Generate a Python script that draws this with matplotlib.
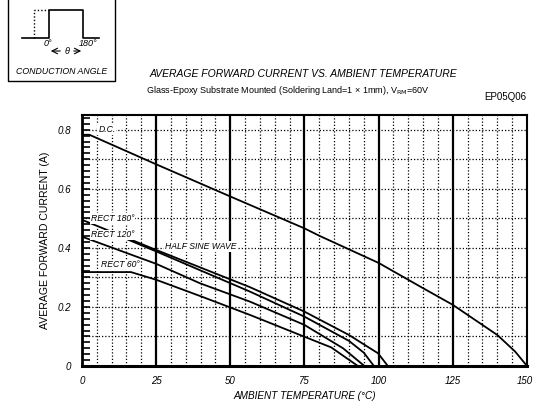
import numpy as np
import matplotlib
matplotlib.use('Agg')
import matplotlib.pyplot as plt
import matplotlib.transforms as mtransforms
from matplotlib.ticker import MultipleLocator

plt.rcParams['font.family'] = ['Liberation Sans Narrow', 'Liberation Sans', 'DejaVu Sans']

# Derating curves: (ambient temperature, current)
dc_t = [0, 2.5, 25, 50, 75, 80, 100, 114, 125, 140, 146, 150]
dc_i = [0.783, 0.783, 0.683, 0.574, 0.466, 0.441, 0.349, 0.269, 0.207, 0.105, 0.049, 0.0]

rect180_t = [0, 15, 25, 56.6, 75, 90, 99.8, 103.1]
rect180_i = [0.495, 0.434, 0.393, 0.267, 0.184, 0.105, 0.043, 0.0]

halfsine_t = [15, 25, 56.6, 75, 90, 95, 98.4]
halfsine_i = [0.430, 0.388, 0.252, 0.167, 0.085, 0.045, 0.0]

rect120_t = [0, 25, 39.8, 56.6, 75, 88, 95.2]
rect120_i = [0.438, 0.346, 0.280, 0.218, 0.139, 0.060, 0.0]

rect60_t = [0, 16.5, 25, 39.8, 56.6, 75, 84, 93.0]
rect60_i = [0.318, 0.318, 0.292, 0.237, 0.173, 0.099, 0.063, 0.0]

x_ticks = [0, 25, 50, 75, 100, 125, 150]
y_ticks = [0, 0.2, 0.4, 0.6, 0.8]
y_tick_labels = ['0', '0.2', '0.4', '0.6', '0.8']

fig = plt.figure(figsize=(5.33, 4.04), dpi=100)
ax = fig.add_axes([0.1538, 0.0941, 0.8349, 0.6213])

# grid: dotted every 5 degC / 0.1 A, solid every 25 degC
for t in range(5, 150, 5):
    if t % 25 == 0:
        ax.axvline(t, color='black', lw=1.6, zorder=1)
    else:
        ax.axvline(t, color='black', lw=0.9, ls=(0, (1, 1.6)), zorder=1)
for v in np.arange(0.1, 0.85, 0.1):
    ax.axhline(v, color='black', lw=0.9, ls=(0, (1, 1.6)), zorder=1)

for tt, ii in [(dc_t, dc_i), (rect180_t, rect180_i), (halfsine_t, halfsine_i),
               (rect120_t, rect120_i), (rect60_t, rect60_i)]:
    ax.plot(tt, ii, color='black', lw=1.3, zorder=3)

lab = dict(fontsize=6.2, style='italic', va='center', ha='left', zorder=4,
           bbox=dict(facecolor='white', edgecolor='none', pad=0.6))
ax.text(5.5, 0.80, 'D.C.', **lab)
ax.text(3.0, 0.50, 'RECT 180°', **lab)
ax.text(3.0, 0.444, 'RECT 120°', **lab)
ax.text(6.3, 0.342, 'RECT 60°', **lab)
ax.text(28, 0.405, 'HALF SINE WAVE', **lab)

ax.set_xlim(0, 150)
ax.set_ylim(0, 0.85)
ax.set_xticks(x_ticks)
ax.set_yticks(y_ticks)
ax.set_yticklabels(y_tick_labels)
ax.yaxis.set_minor_locator(MultipleLocator(0.02))
ax.tick_params(axis='x', length=0, pad=7, labelsize=7)
ax.tick_params(axis='y', which='major', direction='in', length=6, width=1.2, pad=8, labelsize=7)
ax.tick_params(axis='y', which='minor', direction='in', length=6, width=1.2)
for lbl in ax.get_xticklabels() + ax.get_yticklabels():
    lbl.set_style('italic')
last = ax.get_xticklabels()[-1]
last.set_horizontalalignment('right')
last.set_transform(last.get_transform() + mtransforms.ScaledTranslation(6 / 100, 0, fig.dpi_scale_trans))
for s in ax.spines.values():
    s.set_linewidth(1.5)
ax.spines['bottom'].set_linewidth(2.2)
ax.spines['left'].set_linewidth(2.0)

ax.set_xlabel('AMBIENT TEMPERATURE (°C)', fontsize=7.2, style='italic', labelpad=4)
ax.set_ylabel('AVERAGE FORWARD CURRENT (A)', fontsize=7.6, labelpad=5)

fig.text(0.57, 0.818, 'AVERAGE FORWARD CURRENT VS. AMBIENT TEMPERATURE',
         fontsize=7.5, style='italic', ha='center', va='center')
fig.text(0.540, 0.775, 'Glass-Epoxy Substrate Mounted (Soldering Land=1 × 1mm), V$_{\\mathrm{RM}}$=60V',
         fontsize=6.5, ha='center', va='center')
fig.text(0.988, 0.76, 'EP05Q06', fontsize=7, ha='right', va='center')

# conduction angle sketch, drawn in pixel units
ins = fig.add_axes([0, 0, 1, 1], facecolor='none')
ins.set_xlim(0, 533)
ins.set_ylim(404, 0)
ins.axis('off')
box_x = [8, 8, 115, 115]
box_y = [-2, 81, 81, -2]
ins.plot(box_x, box_y, color='black', lw=1.0)
wave_x = [22, 49, 49, 83, 83, 99]
wave_y = [38, 38, 10, 10, 38, 38]
ins.plot(wave_x, wave_y, color='black', lw=1.2)
ins.plot([34, 34, 49], [38, 10, 10], color='black', lw=1.0, ls=(0, (1, 1.5)))
ins.text(48, 44, '0°', fontsize=6.5, style='italic', ha='center', va='center')
ins.text(88, 44, '180°', fontsize=6.5, style='italic', ha='center', va='center')
ins.annotate('', xy=(48, 51), xytext=(63, 51),
             arrowprops=dict(arrowstyle='->', lw=0.8, color='black'))
ins.annotate('', xy=(84, 51), xytext=(71, 51),
             arrowprops=dict(arrowstyle='->', lw=0.8, color='black'))
ins.text(67, 51, 'θ', fontsize=6.5, style='italic', ha='center', va='center')
ins.text(61.5, 72, 'CONDUCTION ANGLE', fontsize=6.3, style='italic', ha='center', va='center')

fig.savefig('out.png', dpi=100)
